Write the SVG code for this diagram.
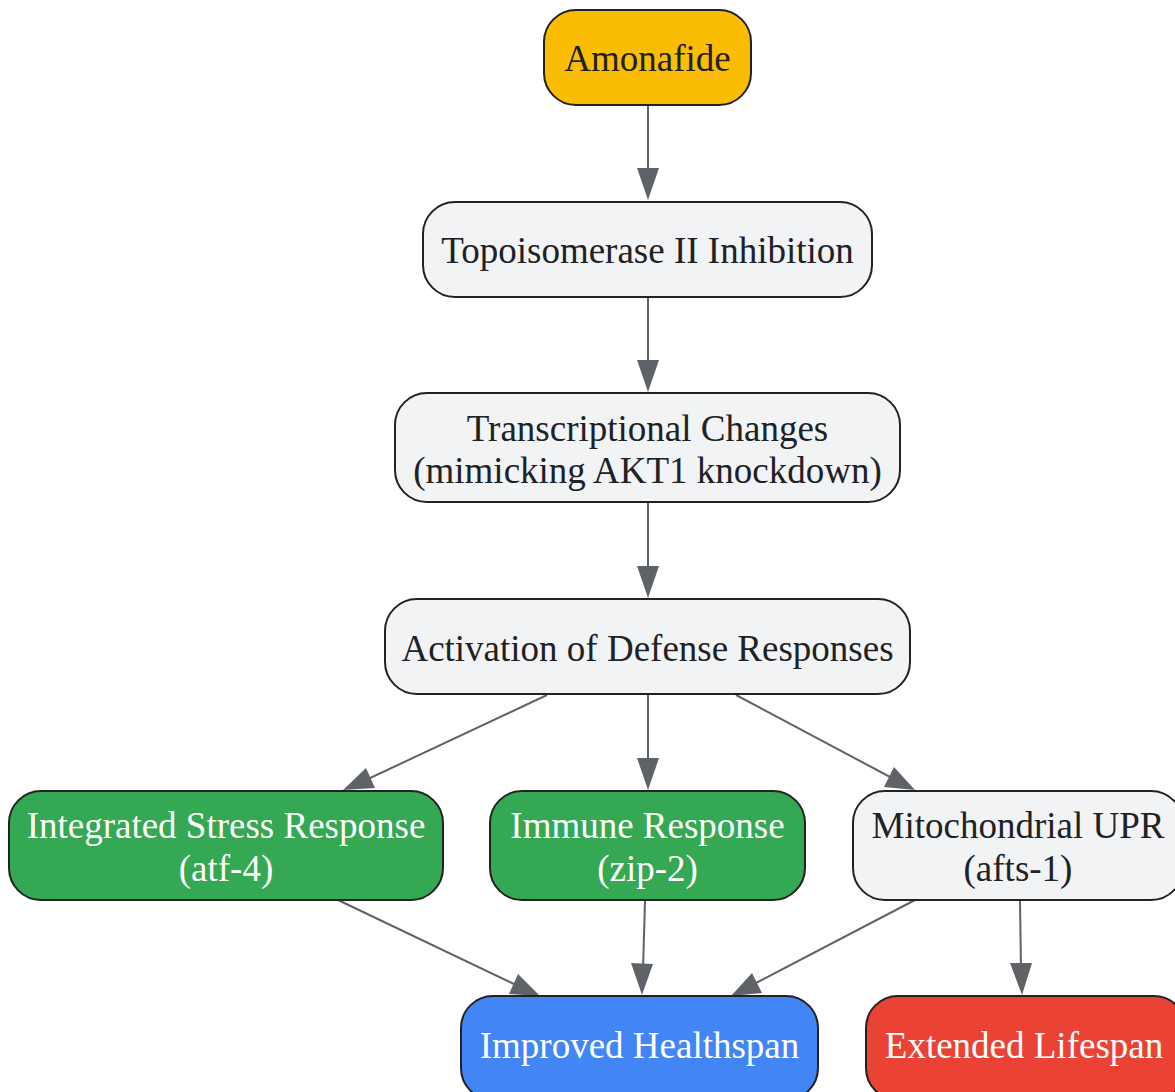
<svg xmlns="http://www.w3.org/2000/svg" width="1175" height="1092" viewBox="0 0 1175 1092">
<defs>
<style>
.n rect{stroke:#222222;stroke-width:2}
.n text{font-family:"Liberation Serif",serif;font-size:37px;text-anchor:middle;dominant-baseline:central}
.light rect{fill:#F1F3F4}
.light text{fill:#202124}
.dark text{fill:#FFFFFF}
#connectors line{stroke:#5F6368;stroke-width:2}
#connectors polygon{fill:#5F6368}
</style>
</defs>
<rect width="1175" height="1092" fill="#FFFFFF"/>
<g id="connectors">
<line x1="648" y1="105" x2="648" y2="175"/>
<polygon points="637,168 659,168 648,200"/>
<line x1="648" y1="297" x2="648" y2="367"/>
<polygon points="637,360 659,360 648,392"/>
<line x1="648" y1="502" x2="648" y2="572"/>
<polygon points="637,566 659,566 648,598"/>
<line x1="547" y1="695" x2="368" y2="779"/>
<polygon points="343,790 366,768 375,788"/>
<line x1="648" y1="695" x2="648" y2="765"/>
<polygon points="637,758 659,758 648,790"/>
<line x1="736" y1="695" x2="892" y2="778"/>
<polygon points="915,790 884,787 894,767"/>
<line x1="338" y1="900" x2="516" y2="985"/>
<polygon points="540,996 509,994 518,974"/>
<line x1="645" y1="901" x2="643" y2="970"/>
<polygon points="631,963 653,964 642,995"/>
<line x1="915" y1="900" x2="754" y2="984"/>
<polygon points="731,996 752,973 762,993"/>
<line x1="1020" y1="901" x2="1021" y2="970"/>
<polygon points="1010,963 1032,963 1022,995"/>
</g>
<g id="n-amonafide" class="n">
<rect x="544" y="10" width="207" height="95" rx="32" fill="#FBBC04"/>
<text x="647.5" y="58" fill="#202124">Amonafide</text>
</g>
<g id="n-topo" class="n light">
<rect x="423" y="202" width="449" height="95" rx="32"/>
<text x="647.5" y="250">Topoisomerase II Inhibition</text>
</g>
<g id="n-trans" class="n light">
<rect x="395" y="393" width="505" height="109" rx="32"/>
<text x="647.5" y="428">Transcriptional Changes</text>
<text x="647.5" y="470">(mimicking AKT1 knockdown)</text>
</g>
<g id="n-act" class="n light">
<rect x="385" y="599" width="525" height="95" rx="32"/>
<text x="647.5" y="648">Activation of Defense Responses</text>
</g>
<g id="n-isr" class="n dark">
<rect x="9" y="791" width="434" height="109" rx="32" fill="#34A853"/>
<text x="226" y="825">Integrated Stress Response</text>
<text x="226" y="868">(atf-4)</text>
</g>
<g id="n-imm" class="n dark">
<rect x="490" y="791" width="315" height="109" rx="32" fill="#34A853"/>
<text x="647.5" y="825">Immune Response</text>
<text x="647.5" y="868">(zip-2)</text>
</g>
<g id="n-mito" class="n light">
<rect x="853" y="791" width="330" height="109" rx="32"/>
<text x="1018" y="825">Mitochondrial UPR</text>
<text x="1018" y="868">(afts-1)</text>
</g>
<g id="n-health" class="n dark">
<rect x="461" y="996" width="357" height="104" rx="32" fill="#4285F4"/>
<text x="639.5" y="1045">Improved Healthspan</text>
</g>
<g id="n-life" class="n dark">
<rect x="866" y="996" width="320" height="104" rx="32" fill="#EA4335"/>
<text x="1024" y="1045">Extended Lifespan</text>
</g>
</svg>
